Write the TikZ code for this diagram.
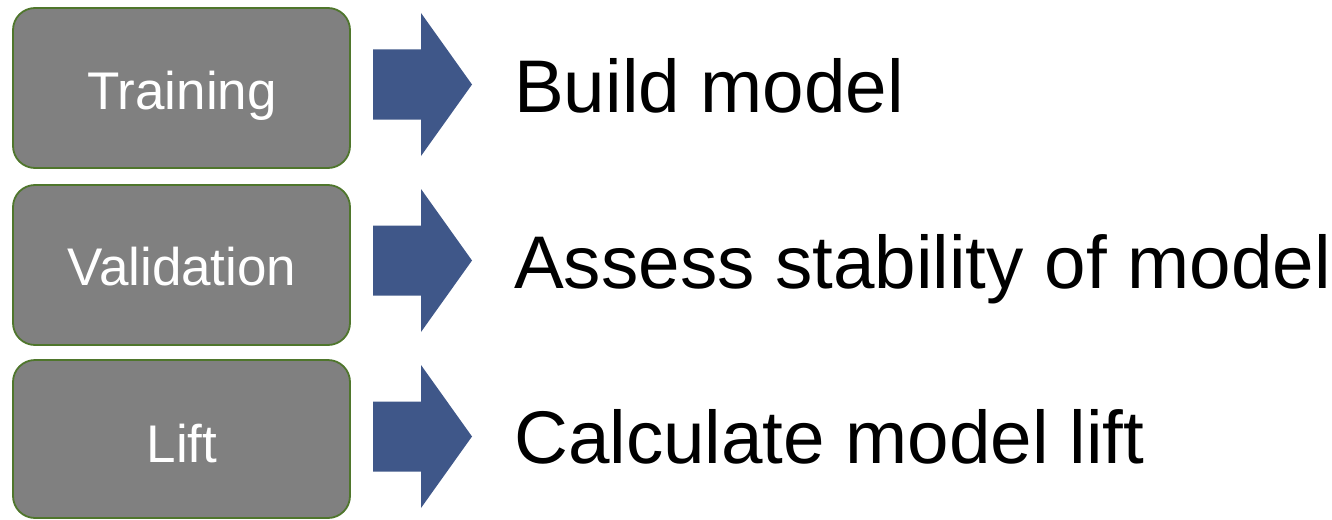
\documentclass[tikz,border=0pt]{standalone}
\usepackage{fontspec}
\setmainfont{Liberation Sans}
\definecolor{boxgray}{RGB}{128,128,128}
\definecolor{boxedge}{RGB}{79,118,44}
\definecolor{arrowblue}{RGB}{63,87,137}
\begin{document}
\begin{tikzpicture}[x=1pt,y=-1pt,
  stagebox/.style={draw=boxedge, line width=1.8pt, fill=boxgray, rounded corners=22pt},
  stagelabel/.style={anchor=base, text=white, font=\fontsize{53}{60}\selectfont, inner sep=0pt},
  desc/.style={anchor=base west, font=\fontsize{74.6}{84}\selectfont, inner sep=0pt},
  blockarrow/.style={fill=arrowblue, draw=none}]
\useasboundingbox (0,0) rectangle (1332,519);

% stage boxes
\draw[stagebox] (13,8) rectangle (350,168);
\draw[stagebox] (13,185) rectangle (350,345);
\draw[stagebox] (13,360) rectangle (350,518);

\node[stagelabel] (train) at (182,109) {Training};
\node[stagelabel] (valid) at (182,285) {Validation};
\node[stagelabel] (lift) at (182,462) {Lift};

% block arrows
\foreach \c in {84.5,260.5,436.5}{
  \fill[blockarrow] (373,\c-35) -- (421,\c-35) -- (421,\c-71.5) -- (472,\c)
    -- (421,\c+71.5) -- (421,\c+35) -- (373,\c+35) -- cycle;
}

% descriptions
\node[desc] (d1) at (514,112) {Build model};
\node[desc] (d2) at (514,288) {Assess stability of model};
\node[desc] (d3) at (514,463) {Calculate model lift};
\end{tikzpicture}
\end{document}
